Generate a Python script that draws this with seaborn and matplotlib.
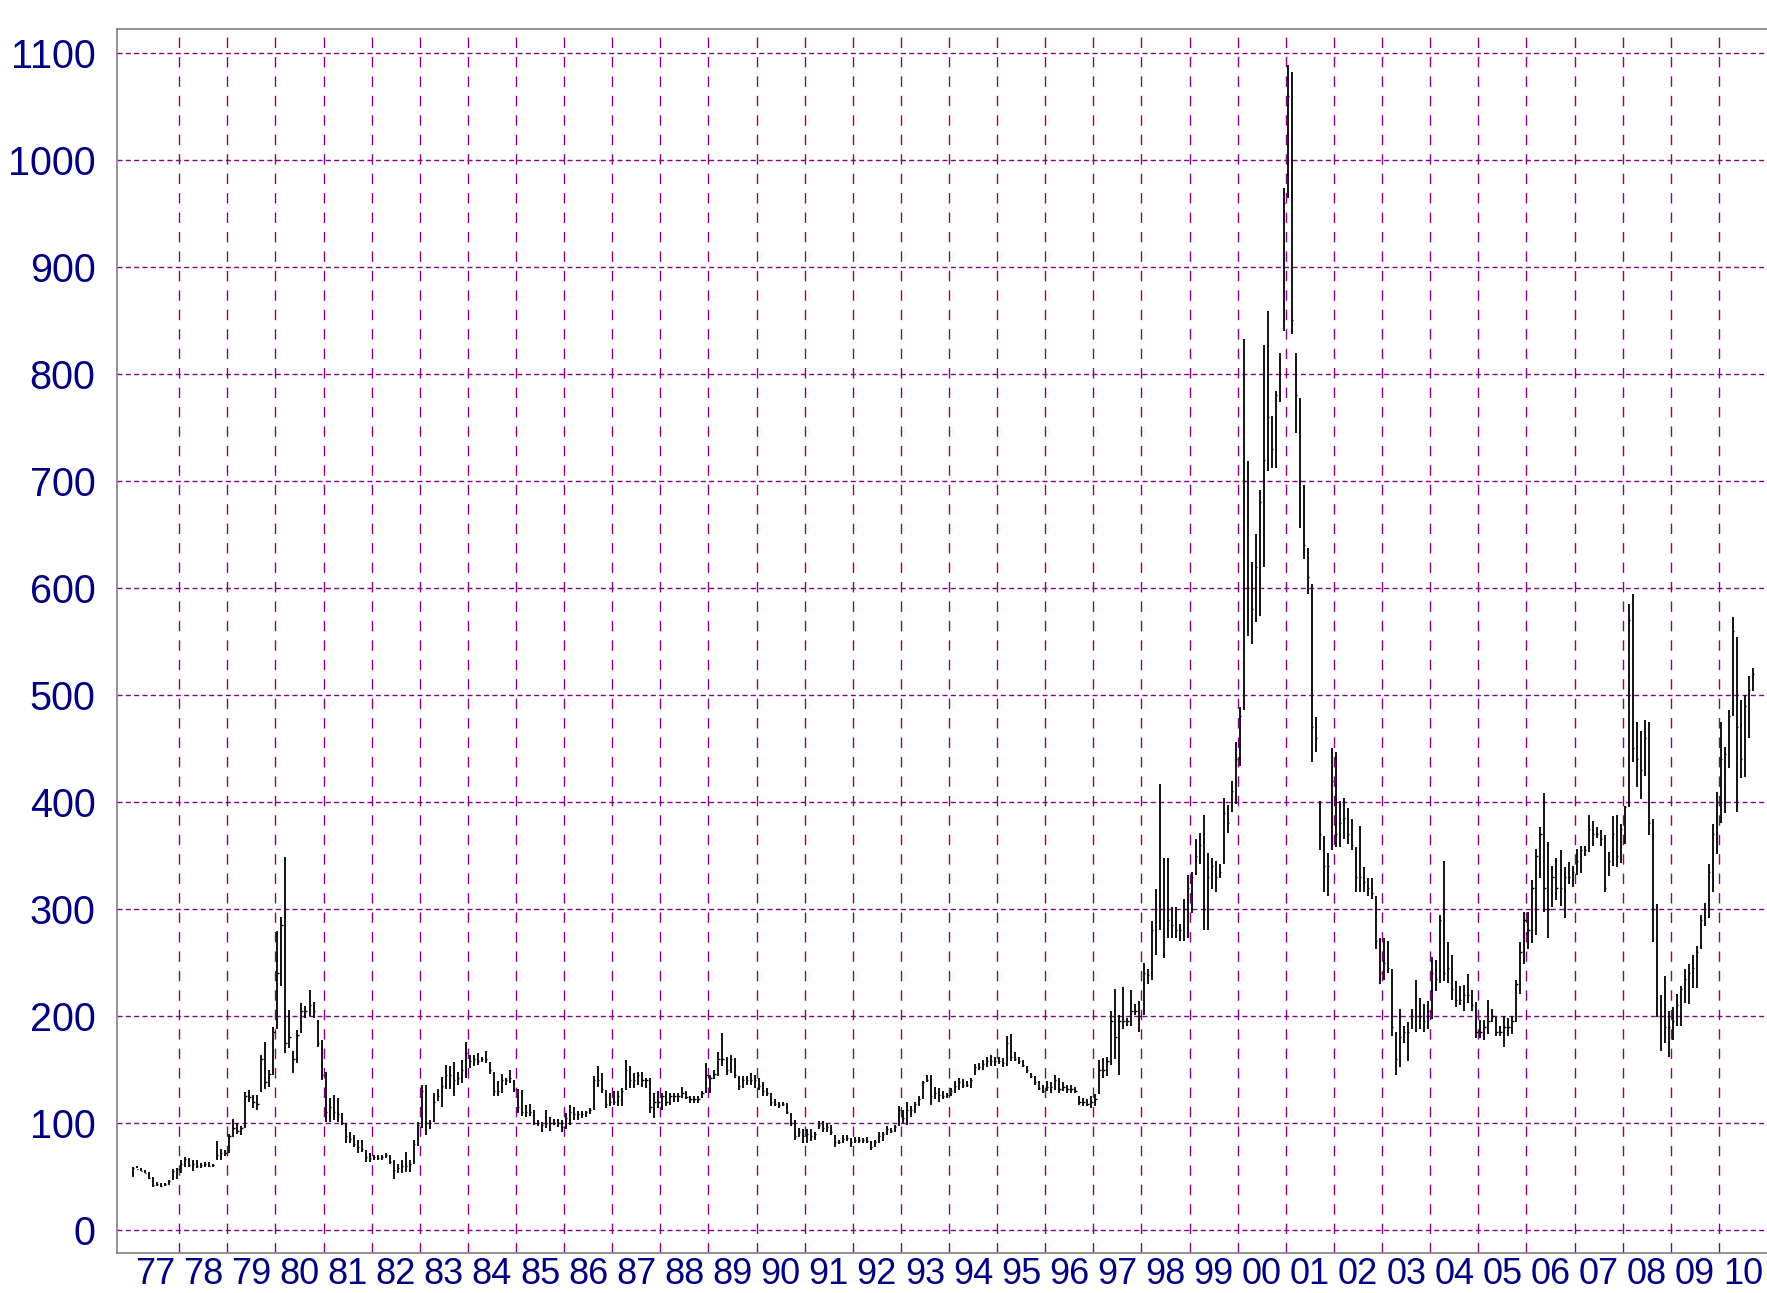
import seaborn as sns
import matplotlib.pyplot as plt
import numpy as np
import pandas as pd

# monthly high / low / close, Jan 1977 .. Sep 2010
high = [
    59, 60, 58, 56, 54, 50, 45, 44, 44, 47, 57, 58,            # 1977
    65, 68, 67, 65, 65, 63, 64, 64, 62, 83, 76, 75,            # 1978
    90, 104, 100, 97, 129, 131, 126, 126, 164, 176, 150, 190,  # 1979
    279, 293, 349, 206, 167, 187, 212, 209, 224, 213, 196, 178,  # 1980
    148, 123, 126, 123, 109, 100, 92, 89, 84, 84, 75, 72,      # 1981
    70, 70, 70, 72, 70, 65, 62, 65, 73, 65, 84, 101,           # 1982
    136, 136, 103, 128, 132, 143, 154, 153, 157, 148, 159, 176,  # 1983
    164, 164, 165, 162, 167, 157, 148, 139, 146, 142, 150, 140,  # 1984
    132, 131, 117, 118, 112, 103, 101, 112, 106, 104, 104, 103,  # 1985
    109, 117, 115, 111, 111, 111, 114, 144, 153, 147, 131, 128,  # 1986
    130, 130, 133, 159, 153, 147, 148, 148, 142, 142, 128, 130,  # 1987
    128, 130, 128, 128, 128, 134, 130, 125, 125, 125, 130, 156,  # 1988
    145, 150, 166, 184, 162, 164, 161, 144, 144, 144, 147, 145,  # 1989
    142, 138, 133, 128, 122, 120, 120, 119, 109, 103, 95, 94,    # 1990
    94, 94, 92, 102, 102, 100, 98, 89, 84, 89, 89, 86,           # 1991
    87, 87, 86, 87, 83, 84, 92, 92, 97, 95, 98, 116,             # 1992
    112, 120, 116, 120, 125, 139, 145, 145, 134, 133, 130, 128,  # 1993
    133, 139, 142, 141, 139, 142, 155, 156, 159, 162, 164, 162,  # 1994
    162, 161, 181, 183, 166, 162, 159, 153, 147, 144, 139, 136,  # 1995
    139, 138, 145, 142, 138, 136, 136, 134, 125, 123, 122, 125,  # 1996
    127, 159, 161, 162, 205, 225, 201, 227, 198, 224, 211, 214,  # 1997
    250, 244, 289, 319, 417, 348, 348, 302, 302, 286, 309, 332,  # 1998
    335, 365, 371, 388, 352, 348, 345, 342, 404, 397, 420, 456,  # 1999
    489, 833, 719, 624, 650, 692, 827, 859, 761, 784, 820, 974,  # 2000
    1089, 1082, 820, 778, 696, 637, 604, 479, 401, 368, 352, 450,  # 2001
    447, 401, 404, 394, 384, 358, 378, 339, 329, 329, 312, 273,  # 2002
    273, 270, 244, 185, 207, 191, 194, 207, 234, 217, 211, 214,  # 2003
    255, 252, 294, 345, 269, 257, 233, 228, 229, 239, 224, 213,  # 2004
    196, 196, 215, 207, 199, 191, 200, 198, 200, 234, 269, 297,  # 2005
    297, 327, 356, 377, 408, 363, 340, 348, 355, 339, 344, 340,  # 2006
    356, 359, 359, 388, 382, 377, 374, 369, 353, 387, 388, 379,  # 2007
    396, 585, 594, 475, 466, 477, 475, 384, 305, 220, 237, 205,  # 2008
    208, 221, 228, 244, 249, 257, 265, 294, 306, 342, 379, 409,  # 2009
    475, 451, 486, 573, 554, 495, 500, 518, 525,                 # 2010
]
low = [
    50, 58, 55, 53, 48, 40, 41, 40, 41, 42, 47, 48,
    53, 59, 59, 55, 58, 58, 59, 59, 59, 65, 65, 69,
    72, 87, 90, 89, 95, 120, 114, 112, 129, 132, 134, 145,
    188, 228, 165, 170, 147, 156, 184, 198, 200, 198, 171, 140,
    101, 101, 103, 101, 98, 81, 81, 78, 72, 73, 64, 64,
    65, 65, 65, 67, 62, 48, 53, 53, 54, 54, 62, 79,
    95, 89, 94, 101, 121, 115, 132, 132, 125, 136, 137, 142,
    151, 153, 154, 157, 156, 146, 125, 125, 128, 136, 137, 129,
    109, 107, 106, 107, 98, 97, 92, 95, 93, 98, 96, 92,
    94, 98, 103, 103, 105, 106, 108, 112, 134, 128, 114, 116,
    117, 116, 116, 131, 133, 133, 136, 134, 133, 109, 105, 114,
    112, 116, 117, 120, 120, 123, 122, 119, 119, 119, 123, 128,
    128, 141, 144, 153, 145, 147, 142, 131, 133, 136, 136, 133,
    131, 125, 125, 116, 116, 114, 116, 108, 97, 84, 87, 81,
    81, 83, 84, 94, 92, 92, 89, 78, 80, 81, 83, 78,
    81, 81, 81, 81, 75, 78, 81, 83, 89, 91, 92, 97,
    100, 98, 106, 109, 116, 122, 138, 117, 122, 120, 122, 123,
    125, 128, 131, 133, 134, 133, 145, 150, 150, 152, 153, 153,
    155, 152, 153, 158, 158, 155, 152, 147, 142, 136, 131, 128,
    130, 128, 131, 128, 130, 128, 128, 128, 117, 116, 116, 114,
    116, 127, 142, 144, 154, 160, 145, 188, 191, 191, 201, 185,
    201, 230, 234, 257, 280, 254, 273, 273, 273, 270, 270, 273,
    296, 332, 342, 280, 280, 319, 316, 329, 342, 371, 391, 398,
    434, 486, 555, 548, 568, 574, 620, 709, 712, 712, 774, 840,
    964, 837, 745, 656, 627, 594, 437, 447, 355, 316, 312, 355,
    358, 358, 365, 361, 355, 316, 316, 316, 312, 309, 263, 230,
    234, 240, 181, 145, 152, 175, 158, 188, 185, 188, 185, 188,
    197, 223, 231, 233, 231, 215, 208, 210, 205, 212, 205, 179,
    179, 178, 183, 194, 181, 181, 171, 181, 183, 194, 221, 249,
    263, 268, 276, 329, 297, 273, 302, 308, 303, 292, 323, 321,
    332, 334, 350, 353, 359, 366, 359, 316, 331, 340, 339, 343,
    361, 395, 437, 414, 403, 424, 369, 269, 199, 167, 175, 162,
    178, 191, 191, 212, 211, 226, 226, 263, 284, 292, 316, 351,
    380, 390, 432, 480, 391, 422, 423, 460, 504,
]
close = [
    58, 57, 55, 53, 49, 42, 43, 41, 43, 46, 55, 57,
    62, 66, 61, 62, 60, 61, 62, 60, 61, 70, 72, 72,
    88, 95, 93, 95, 125, 124, 120, 118, 160, 138, 146, 185,
    240, 285, 175, 180, 160, 182, 205, 205, 210, 205, 175, 145,
    110, 115, 110, 108, 100, 88, 85, 80, 78, 76, 68, 67,
    68, 67, 68, 70, 64, 56, 58, 60, 60, 62, 80, 98,
    130, 100, 100, 120, 125, 135, 145, 145, 140, 142, 150, 165,
    158, 160, 158, 160, 160, 150, 130, 130, 140, 140, 142, 132,
    115, 110, 110, 110, 100, 100, 98, 100, 100, 100, 100, 96,
    105, 110, 108, 108, 108, 110, 112, 140, 140, 132, 118, 120,
    120, 125, 130, 150, 140, 140, 145, 140, 140, 115, 120, 120,
    125, 120, 125, 125, 125, 128, 124, 122, 122, 122, 128, 145,
    142, 146, 160, 160, 150, 160, 145, 135, 140, 140, 140, 140,
    135, 130, 128, 120, 118, 117, 118, 110, 100, 88, 92, 88,
    90, 88, 90, 98, 95, 96, 92, 82, 82, 85, 86, 82,
    84, 84, 84, 83, 78, 82, 88, 90, 94, 93, 96, 112,
    105, 112, 112, 118, 122, 138, 140, 125, 128, 126, 125, 126,
    130, 135, 138, 136, 136, 140, 152, 152, 155, 158, 158, 158,
    158, 156, 175, 162, 160, 158, 154, 150, 144, 138, 133, 130,
    134, 134, 140, 132, 134, 132, 132, 130, 120, 120, 118, 120,
    122, 150, 150, 158, 195, 180, 195, 195, 195, 205, 205, 200,
    240, 238, 280, 300, 300, 300, 290, 285, 280, 280, 300, 320,
    330, 350, 360, 300, 330, 340, 330, 335, 390, 380, 410, 440,
    480, 700, 600, 580, 620, 680, 720, 760, 730, 780, 800, 960,
    1060, 850, 780, 700, 640, 610, 470, 460, 370, 340, 340, 420,
    370, 380, 385, 370, 360, 330, 330, 325, 320, 315, 270, 240,
    250, 245, 190, 160, 180, 185, 185, 200, 200, 200, 195, 205,
    240, 235, 290, 240, 245, 225, 215, 215, 220, 220, 210, 185,
    185, 190, 195, 200, 185, 185, 190, 190, 195, 230, 260, 290,
    280, 320, 350, 370, 320, 300, 330, 320, 320, 330, 330, 335,
    345, 355, 355, 375, 370, 370, 365, 320, 345, 370, 350, 375,
    395, 570, 450, 440, 430, 460, 380, 300, 200, 200, 190, 190,
    195, 210, 225, 235, 240, 245, 260, 290, 300, 335, 370, 400,
    440, 445, 480, 560, 470, 440, 490, 505, 520,
]

years = list(range(1978, 2011))
year_labels = ["77", "78", "79", "80", "81", "82", "83", "84", "85", "86",
               "87", "88", "89", "90", "91", "92", "93", "94", "95", "96",
               "97", "98", "99", "00", "01", "02", "03", "04", "05", "06",
               "07", "08", "09", "10"]
yticks = list(range(0, 1101, 100))

df = pd.DataFrame({"high": high, "low": low, "close": close})
df["t"] = 1977 + (np.arange(len(df)) + 0.5) / 12

sns.set_style("white")
plt.rcParams["font.family"] = ["Liberation Sans", "DejaVu Sans"]

purple = "#880088"
navy = "#000080"

fig = plt.figure(figsize=(17.67, 12.93), dpi=100)
ax = fig.add_axes([0.0662, 0.0309, 0.9338, 0.9467])

# high-low bars with a small close tick on the right
ax.vlines(df["t"], df["low"], df["high"], color="black", lw=1.3, zorder=3)
ax.hlines(df["close"], df["t"], df["t"] + 0.3 / 12, color="black", lw=1.0, zorder=3)

ax.set_xlim(1976.707, 2011.0)
ax.set_ylim(-21.5, 1122.4)

ax.set_xticks(years, labels=[""] * len(years))
ax.set_xticks([y + 0.5 for y in range(1977, 2011)], labels=year_labels, minor=True)
ax.set_yticks(yticks, labels=[str(v) for v in yticks])

ax.set_axisbelow(True)
ax.grid(axis="x", which="major", color=purple, lw=1.0, linestyle=(0, (7.5, 6.5)))
ax.grid(axis="y", which="major", color=purple, lw=1.0, linestyle=(0, (3.6, 2.4)))

ax.tick_params(axis="x", which="major", direction="inout", length=16, width=1.0,
               color="black")
ax.tick_params(axis="x", which="minor", length=0, pad=3, labelsize=26,
               labelcolor=navy)
ax.tick_params(axis="y", which="major", direction="inout", length=15, width=1.0,
               color="black", pad=8, labelsize=28.5, labelcolor=navy)

for side in ["left", "top", "bottom"]:
    ax.spines[side].set_color("#808080")
    ax.spines[side].set_linewidth(1.2)
ax.spines["right"].set_visible(False)

fig.savefig("out.png", dpi=100)
